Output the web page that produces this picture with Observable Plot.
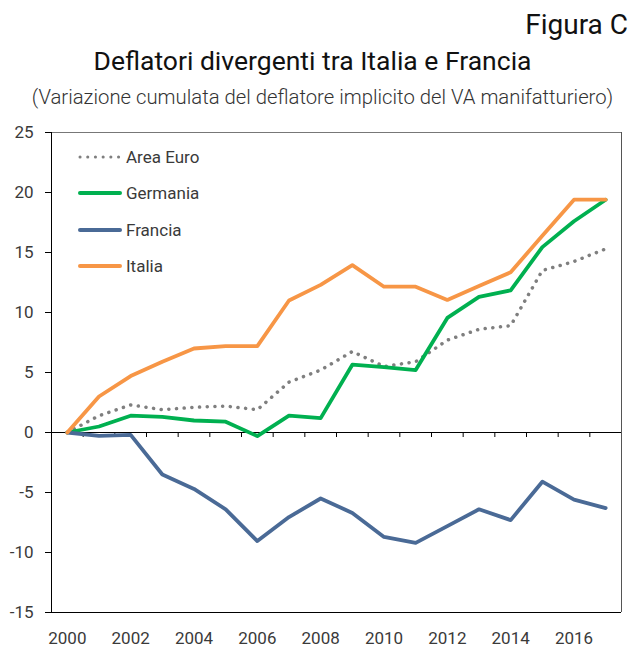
<!DOCTYPE html>
<html>
<head>
<meta charset="utf-8">
<script src="https://cdn.jsdelivr.net/npm/d3@7"></script>
<script src="https://cdn.jsdelivr.net/npm/@observablehq/plot@0.6"></script>
<style>
  html, body { margin: 0; padding: 0; background: #fff; }
  body { width: 633px; height: 647px; overflow: hidden; font-family: Roboto, "Noto Sans", sans-serif; color: #222; }
  #wrap { position: relative; width: 633px; height: 647px; }
  #header { position: relative; width: 633px; height: 120px; }
  #fig { position: absolute; right: 5px; top: 9px; font-size: 28px; line-height: 32px; color: #111; }
  #title { position: absolute; left: 0; width: 625px; text-align: center; top: 45px; font-size: 26.5px; line-height: 32px; color: #111; }
  #subtitle { position: absolute; left: 0; width: 645px; text-align: center; top: 85px; font-size: 20.3px; line-height: 24px; color: #333; font-weight: 300; }
  #legend { position: absolute; left: 78px; top: 139px; font-size: 17px; color: #3a3a3a; }
  .item { display: flex; align-items: center; height: 36.3px; }
  .item svg { margin-right: 4px; }
</style>
</head>
<body>
<div id="wrap">
  <div id="header">
    <div id="fig">Figura C</div>
    <div id="title">Deflatori divergenti tra Italia e Francia</div>
    <div id="subtitle">(Variazione cumulata del deflatore implicito del VA manifatturiero)</div>
  </div>
  <div id="chart"></div>
  <div id="legend"></div>
</div>
<script>
const years = [2000,2001,2002,2003,2004,2005,2006,2007,2008,2009,2010,2011,2012,2013,2014,2015,2016,2017];
const areaEuro = [0,1.4,2.3,1.9,2.1,2.2,1.9,4.2,5.2,6.75,5.5,5.9,7.7,8.6,8.9,13.5,14.25,15.3];
const germania = [0,0.5,1.4,1.3,1.0,0.9,-0.3,1.4,1.2,5.65,5.45,5.2,9.55,11.3,11.85,15.45,17.6,19.4];
const francia = [0,-0.28,-0.2,-3.5,-4.7,-6.4,-9.05,-7.05,-5.5,-6.7,-8.7,-9.2,-7.8,-6.4,-7.3,-4.1,-5.6,-6.3];
const italia = [0,3.0,4.7,5.9,7.0,7.2,7.2,11.0,12.3,13.95,12.15,12.15,11.05,12.2,13.35,16.4,19.4,19.4];
const seriesNames = ["Area Euro","Germania","Francia","Italia"];
const seriesColors = ["#7f7f7f","#00b050","#4a6a96","#f79646"];
const xLabelYears = [2000,2002,2004,2006,2008,2010,2012,2014,2016];
const yTicks = [-15,-10,-5,0,5,10,15,20,25];

const allSeries = [areaEuro, germania, francia, italia];
const data = [];
seriesNames.forEach((name, i) => years.forEach((yr, j) => data.push({series: name, year: yr, value: allSeries[i][j]})));
const boundaries = years.slice(1).map(y => y - 0.5);
const xDomain = [years[0] - 0.5, years[years.length - 1] + 0.5];
const yDomain = [yTicks[0], yTicks[yTicks.length - 1]];

const lineStyle = (name, i) => name === "Area Euro"
  ? {stroke: seriesColors[i], strokeWidth: 3.5, strokeDasharray: "0.1 7.6", strokeLinecap: "round"}
  : {stroke: seriesColors[i], strokeWidth: 3.8, strokeLinejoin: "round"};

const chart = Plot.plot({
  width: 633,
  height: 527,
  marginTop: 12,
  marginBottom: 35,
  marginLeft: 51,
  marginRight: 12,
  x: {type: "linear", domain: xDomain, label: null},
  y: {domain: yDomain, label: null},
  style: {fontFamily: "Roboto, sans-serif", fontSize: "17px", color: "#3a3a3a", background: "#fff"},
  marks: [
    Plot.axisY({ticks: yTicks, tickSize: 6, tickPadding: 12, tickFormat: d => String(d), stroke: "#000", fontSize: 17, label: null}),
    Plot.axisX({ticks: xLabelYears, tickSize: 0, tickPadding: 19, tickFormat: d => String(d), fontSize: 17, label: null}),
    Plot.ruleY([yDomain[1]], {stroke: "#777", strokeWidth: 1}),
    Plot.ruleX([xDomain[1]], {stroke: "#555", strokeWidth: 1}),
    Plot.ruleX([xDomain[0]], {stroke: "#000", strokeWidth: 1}),
    Plot.ruleY([yDomain[0]], {stroke: "#000", strokeWidth: 1}),
    Plot.ruleY([0], {stroke: "#000", strokeWidth: 1}),
    Plot.ruleX(boundaries, {y1: 0, y2: 0, insetBottom: -5, stroke: "#000"}),
    ...seriesNames.map((name, i) => Plot.lineY(data.filter(d => d.series === name), {x: "year", y: "value", ...lineStyle(name, i)}))
  ]
});
document.getElementById("chart").appendChild(chart);

const legend = document.getElementById("legend");
seriesNames.forEach((name, i) => {
  const item = document.createElement("div");
  item.className = "item";
  const dotted = name === "Area Euro";
  item.innerHTML = `<svg width="44" height="8"><line x1="2" y1="4" x2="42" y2="4" stroke="${seriesColors[i]}" stroke-width="${dotted ? 3 : 4}" stroke-linecap="round" ${dotted ? 'stroke-dasharray="0.1 7.6"' : ''}/></svg><span>${name}</span>`;
  legend.appendChild(item);
});
</script>
</body>
</html>
